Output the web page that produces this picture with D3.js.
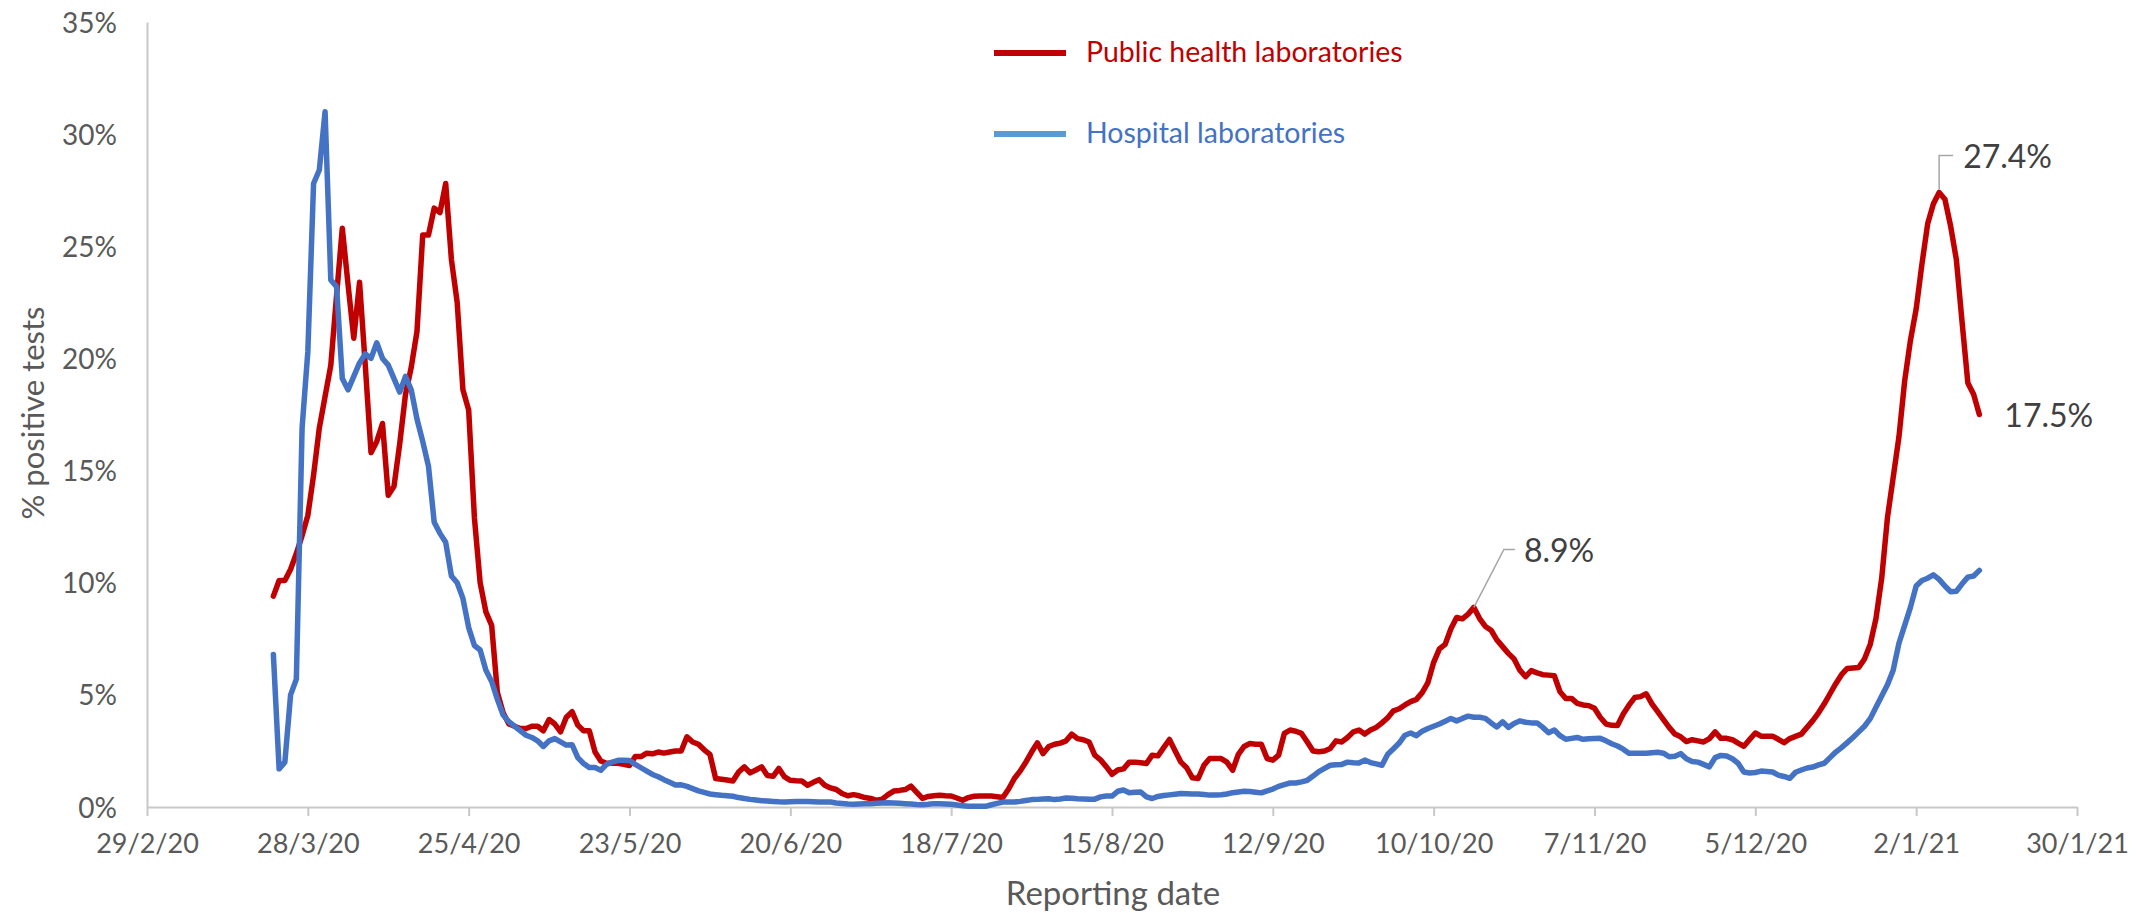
<!DOCTYPE html>
<html>
<head>
<meta charset="utf-8">
<script src="https://cdn.jsdelivr.net/npm/d3@7"></script>
<style>
  html, body { margin: 0; padding: 0; background: #ffffff; }
  svg { display: block; font-family: Lato, "Open Sans", sans-serif; }
</style>
</head>
<body>
<svg id="chart" width="2144" height="913"></svg>
<script>
// ---- data: daily % of tests positive, by reporting date ----
const firstReportingDate = "2020-03-22";

const publicHealthLabs = [
  9.4, 10.1, 10.1, 10.6, 11.3, 12.1, 13.0, 14.8, 16.9, 18.3,
  19.7, 22.8, 25.8, 23.3, 20.9, 23.4, 19.7, 15.8, 16.3, 17.1,
  13.9, 14.3, 16.2, 18.4, 19.6, 21.2, 25.5, 25.5, 26.7, 26.5,
  27.8, 24.4, 22.5, 18.6, 17.7, 12.9, 10.0, 8.7, 8.1, 5.1,
  4.2, 3.7, 3.6, 3.5, 3.5, 3.6, 3.6, 3.4, 3.9, 3.7,
  3.35, 4.0, 4.25, 3.65, 3.4, 3.4, 2.45, 2.05, 1.95, 1.95,
  1.95, 1.9, 1.85, 2.25, 2.25, 2.4, 2.37, 2.45, 2.4, 2.45,
  2.5, 2.5, 3.13, 2.9, 2.8, 2.55, 2.35, 1.27, 1.24, 1.2,
  1.16, 1.56, 1.79, 1.52, 1.65, 1.79, 1.4, 1.37, 1.72, 1.34,
  1.19, 1.17, 1.16, 0.97, 1.1, 1.22, 0.97, 0.85, 0.78, 0.6,
  0.5, 0.55, 0.5, 0.42, 0.38, 0.3, 0.35, 0.55, 0.71, 0.74,
  0.78, 0.93, 0.65, 0.38, 0.47, 0.5, 0.52, 0.5, 0.49, 0.4,
  0.3, 0.42, 0.48, 0.49, 0.49, 0.49, 0.46, 0.42, 0.8, 1.27,
  1.6, 2.0, 2.45, 2.86, 2.38, 2.7, 2.8, 2.85, 2.95, 3.25,
  3.05, 3.0, 2.9, 2.31, 2.1, 1.8, 1.46, 1.65, 1.7, 2.0,
  2.0, 1.97, 1.94, 2.31, 2.28, 2.65, 3.01, 2.5, 2.0, 1.75,
  1.3, 1.27, 1.86, 2.16, 2.16, 2.16, 2.0, 1.64, 2.35, 2.7,
  2.83, 2.8, 2.8, 2.16, 2.09, 2.31, 3.28, 3.43, 3.38, 3.28,
  2.9, 2.5, 2.46, 2.5, 2.61, 2.95, 2.9, 3.1, 3.35, 3.43,
  3.25, 3.43, 3.55, 3.75, 3.98, 4.29, 4.38, 4.55, 4.7, 4.8,
  5.1, 5.55, 6.45, 7.05, 7.25, 7.95, 8.45, 8.39, 8.6, 8.9,
  8.4, 8.05, 7.88, 7.45, 7.15, 6.85, 6.6, 6.1, 5.81, 6.08,
  5.98, 5.9, 5.88, 5.85, 5.14, 4.84, 4.84, 4.62, 4.55, 4.52,
  4.4, 4.0, 3.7, 3.64, 3.63, 4.15, 4.54, 4.88, 4.92, 5.05,
  4.6, 4.25, 3.9, 3.55, 3.25, 3.13, 2.92, 3.0, 2.95, 2.9,
  3.05, 3.35, 3.06, 3.06, 3.0, 2.85, 2.71, 3.01, 3.3, 3.16,
  3.16, 3.16, 3.02, 2.87, 3.05, 3.15, 3.25, 3.55, 3.85, 4.2,
  4.6, 5.05, 5.5, 5.9, 6.18, 6.2, 6.22, 6.6, 7.25, 8.4,
  10.2, 12.9, 14.7, 16.5, 19.0, 20.8, 22.2, 24.2, 26.0, 26.9,
  27.4, 27.1, 25.9, 24.4, 21.6, 18.9, 18.4, 17.5
];

const hospitalLabs = [
  6.8, 1.7, 2.0, 5.0, 5.7, 16.9, 20.3, 27.8, 28.4, 31.0,
  23.5, 23.2, 19.1, 18.6, 19.2, 19.8, 20.2, 20.0, 20.7, 20.0,
  19.7, 19.1, 18.5, 19.2, 18.6, 17.3, 16.3, 15.2, 12.7, 12.2,
  11.8, 10.3, 10.0, 9.3, 8.0, 7.2, 7.0, 6.1, 5.6, 4.8,
  4.1, 3.8, 3.6, 3.4, 3.2, 3.1, 2.95, 2.7, 2.95, 3.05,
  2.9, 2.76, 2.78, 2.2, 1.94, 1.76, 1.76, 1.64, 1.9, 2.0,
  2.08, 2.08, 2.07, 1.9, 1.75, 1.6, 1.45, 1.35, 1.22, 1.1,
  0.98, 0.99, 0.92, 0.82, 0.72, 0.65, 0.58, 0.55, 0.52, 0.5,
  0.48, 0.42, 0.38, 0.34, 0.31, 0.28, 0.27, 0.25, 0.23, 0.22,
  0.23, 0.24, 0.25, 0.24, 0.23, 0.22, 0.22, 0.22, 0.18, 0.16,
  0.13, 0.12, 0.13, 0.14, 0.15, 0.17, 0.18, 0.19, 0.18, 0.17,
  0.15, 0.13, 0.11, 0.1, 0.12, 0.15, 0.14, 0.13, 0.12, 0.09,
  0.06, 0.03, 0.03, 0.03, 0.03, 0.1, 0.16, 0.22, 0.22, 0.22,
  0.25, 0.29, 0.33, 0.34, 0.36, 0.37, 0.33, 0.36, 0.4, 0.39,
  0.37, 0.36, 0.35, 0.35, 0.45, 0.49, 0.49, 0.7, 0.76, 0.64,
  0.66, 0.67, 0.45, 0.38, 0.47, 0.51, 0.54, 0.57, 0.6, 0.59,
  0.58, 0.58, 0.56, 0.53, 0.53, 0.55, 0.58, 0.64, 0.67, 0.7,
  0.69, 0.66, 0.63, 0.72, 0.8, 0.92, 1.0, 1.07, 1.07, 1.12,
  1.19, 1.38, 1.58, 1.72, 1.86, 1.88, 1.9, 2.0, 1.97, 1.96,
  2.09, 1.98, 1.92, 1.86, 2.35, 2.6, 2.85, 3.2, 3.3, 3.18,
  3.38, 3.5, 3.6, 3.7, 3.82, 3.95, 3.84, 3.95, 4.05, 4.0,
  4.0, 3.95, 3.75, 3.57, 3.8, 3.55, 3.72, 3.84, 3.78, 3.75,
  3.75, 3.55, 3.31, 3.43, 3.18, 3.02, 3.06, 3.1, 3.02, 3.04,
  3.05, 3.06, 2.95, 2.82, 2.72, 2.58, 2.4, 2.4, 2.4, 2.4,
  2.42, 2.44, 2.4, 2.24, 2.26, 2.38, 2.15, 2.03, 2.0, 1.9,
  1.79, 2.2, 2.3, 2.27, 2.15, 1.95, 1.56, 1.52, 1.54, 1.6,
  1.58, 1.56, 1.42, 1.36, 1.28, 1.55, 1.65, 1.74, 1.78, 1.88,
  1.95, 2.2, 2.45, 2.65, 2.87, 3.1, 3.35, 3.6, 3.94, 4.45,
  4.95, 5.45, 6.1, 7.3, 8.1, 8.9, 9.85, 10.1, 10.2, 10.35,
  10.15, 9.85, 9.6, 9.62, 9.95, 10.25, 10.3, 10.55
];

const seriesNames = ["Public health laboratories", "Hospital laboratories"];
const xTickDates = [
  "2020-02-29", "2020-03-28", "2020-04-25", "2020-05-23", "2020-06-20",
  "2020-07-18", "2020-08-15", "2020-09-12", "2020-10-10", "2020-11-07",
  "2020-12-05", "2021-01-02", "2021-01-30"
];
const yTickValues = [0, 5, 10, 15, 20, 25, 30, 35];
// dates of the public-health points that carry a value label
const labelledDates = ["2020-10-17", "2021-01-06", "2021-01-13"];

// ---- setup ----
const parseDate = d3.utcParse("%Y-%m-%d");
const start = parseDate(firstReportingDate);
const toPoints = vals => vals.map((v, i) => ({ date: d3.utcDay.offset(start, i), value: v }));
const series = [
  { name: seriesNames[0], points: toPoints(publicHealthLabs), color: "#c00000", legendColor: "#c00000" },
  { name: seriesNames[1], points: toPoints(hospitalLabs), color: "#4472c4", legendColor: "#5b9bd5" }
];

const svg = d3.select("#chart");
const plot = { left: 147, right: 2077, top: 22, bottom: 807 };

const x = d3.scaleUtc()
  .domain([parseDate(xTickDates[0]), parseDate(xTickDates[xTickDates.length - 1])])
  .range([plot.left, plot.right]);
const y = d3.scaleLinear()
  .domain([0, 35])
  .range([plot.bottom, plot.top]);

const axisColor = "#c8c8c8";
const tickTextColor = "#595959";
const fmtDate = d => `${d.getUTCDate()}/${d.getUTCMonth() + 1}/${String(d.getUTCFullYear()).slice(2)}`;

// ---- y axis ----
const yAxis = svg.append("g")
  .attr("transform", `translate(${plot.left},0)`)
  .call(d3.axisLeft(y).tickValues(yTickValues).tickSize(0).tickPadding(30).tickFormat(d => d + "%"));
yAxis.select(".domain").attr("stroke", axisColor).attr("stroke-width", 2);
yAxis.selectAll("text")
  .attr("fill", tickTextColor)
  .style("font-size", "28px")
  .style("font-family", "Lato, sans-serif")
  .attr("dy", "0.36em");

// ---- x axis ----
const xAxis = svg.append("g")
  .attr("transform", `translate(0,${plot.bottom})`)
  .call(d3.axisBottom(x).tickValues(xTickDates.map(parseDate)).tickSize(9).tickSizeOuter(0).tickPadding(18).tickFormat(fmtDate));
xAxis.select(".domain").attr("stroke", axisColor).attr("stroke-width", 2);
xAxis.selectAll(".tick line").attr("stroke", axisColor).attr("stroke-width", 2);
xAxis.selectAll("text")
  .attr("fill", tickTextColor)
  .style("font-size", "27px")
  .style("font-family", "Lato, sans-serif");

// ---- axis titles ----
svg.append("text")
  .attr("transform", "translate(44,413) rotate(-90)")
  .attr("text-anchor", "middle")
  .attr("fill", tickTextColor)
  .style("font-size", "31px")
  .text("% positive tests");

svg.append("text")
  .attr("x", 1113)
  .attr("y", 905)
  .attr("text-anchor", "middle")
  .attr("fill", tickTextColor)
  .style("font-size", "33px")
  .text("Reporting date");

// ---- lines ----
const line = d3.line()
  .x(d => x(d.date))
  .y(d => y(d.value));

svg.append("g")
  .selectAll("path")
  .data(series)
  .join("path")
  .attr("d", s => line(s.points))
  .attr("fill", "none")
  .attr("stroke", s => s.color)
  .attr("stroke-width", 5.5)
  .attr("stroke-linejoin", "round")
  .attr("stroke-linecap", "round");

// ---- legend ----
const legend = svg.append("g").attr("transform", "translate(994,53)");
const legendItems = legend.selectAll("g")
  .data(series)
  .join("g")
  .attr("transform", (d, i) => `translate(0,${i * 81})`);
legendItems.append("line")
  .attr("x1", 0).attr("x2", 72)
  .attr("stroke", d => d.legendColor)
  .attr("stroke-width", 6);
legendItems.append("text")
  .attr("x", 92)
  .attr("y", 9)
  .attr("fill", d => d.color)
  .style("font-size", "28.5px")
  .text(d => d.name);

// ---- value labels on the public-health series ----
const fmtPct = v => v.toFixed(1) + "%";
const ph = series[0].points;
const findPoint = ds => ph.find(p => +p.date === +parseDate(ds));
const labelColor = "#404040";
const leaderColor = "#a6a6a6";
const ann = svg.append("g");

// autumn peak: angled leader to the upper right
{
  const p = findPoint(labelledDates[0]);
  const px = x(p.date), py = y(p.value);
  ann.append("path")
    .attr("d", `M${px},${py} L${px + 30},${py - 58} L${px + 41},${py - 58}`)
    .attr("fill", "none").attr("stroke", leaderColor).attr("stroke-width", 1.5);
  ann.append("text")
    .attr("x", px + 50).attr("y", py - 45)
    .attr("fill", labelColor).style("font-size", "32px")
    .text(fmtPct(p.value));
}
// winter peak: vertical leader then short horizontal
{
  const p = findPoint(labelledDates[1]);
  const px = x(p.date), py = y(p.value);
  ann.append("path")
    .attr("d", `M${px},${py - 3} L${px},${py - 37} L${px + 14},${py - 37}`)
    .attr("fill", "none").attr("stroke", leaderColor).attr("stroke-width", 1.5);
  ann.append("text")
    .attr("x", px + 24).attr("y", py - 24)
    .attr("fill", labelColor).style("font-size", "32px")
    .text(fmtPct(p.value));
}
// latest value: label to the right of the line end
{
  const p = findPoint(labelledDates[2]);
  const px = x(p.date), py = y(p.value);
  ann.append("text")
    .attr("x", px + 25).attr("y", py + 12)
    .attr("fill", labelColor).style("font-size", "32px")
    .text(fmtPct(p.value));
}
</script>
</body>
</html>
